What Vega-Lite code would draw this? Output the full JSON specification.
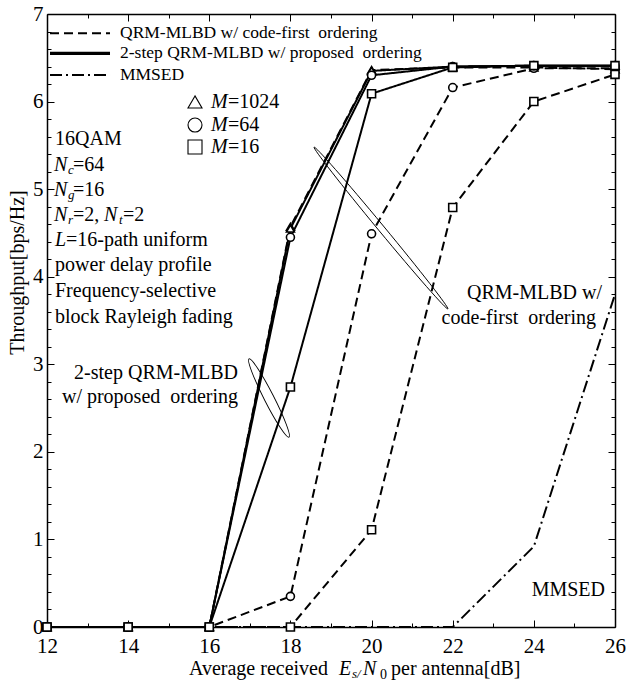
{
  "$schema": "https://vega.github.io/schema/vega-lite/v6.json",
  "width": 568,
  "height": 613,
  "autosize": {"type": "none"},
  "padding": {"left": 47, "top": 14, "right": 18, "bottom": 57},
  "background": "white",
  "config": {"view": {"stroke": null}, "font": "Liberation Serif"},
  "resolve": {"axis": {"x": "independent", "y": "independent"}},
  "datasets": {
    "curves": [
      {"snr": 12, "thr": 0, "scheme": "code-first", "M": "1024"},
      {"snr": 14, "thr": 0, "scheme": "code-first", "M": "1024"},
      {"snr": 16, "thr": 0, "scheme": "code-first", "M": "1024"},
      {"snr": 18, "thr": 4.57, "scheme": "code-first", "M": "1024"},
      {"snr": 20, "thr": 6.36, "scheme": "code-first", "M": "1024"},
      {"snr": 22, "thr": 6.39, "scheme": "code-first", "M": "1024"},
      {"snr": 24, "thr": 6.39, "scheme": "code-first", "M": "1024"},
      {"snr": 26, "thr": 6.37, "scheme": "code-first", "M": "1024"},
      {"snr": 12, "thr": 0, "scheme": "code-first", "M": "64"},
      {"snr": 14, "thr": 0, "scheme": "code-first", "M": "64"},
      {"snr": 16, "thr": 0, "scheme": "code-first", "M": "64"},
      {"snr": 18, "thr": 0.35, "scheme": "code-first", "M": "64"},
      {"snr": 20, "thr": 4.49, "scheme": "code-first", "M": "64"},
      {"snr": 22, "thr": 6.16, "scheme": "code-first", "M": "64"},
      {"snr": 24, "thr": 6.38, "scheme": "code-first", "M": "64"},
      {"snr": 26, "thr": 6.38, "scheme": "code-first", "M": "64"},
      {"snr": 12, "thr": 0, "scheme": "code-first", "M": "16"},
      {"snr": 14, "thr": 0, "scheme": "code-first", "M": "16"},
      {"snr": 16, "thr": 0, "scheme": "code-first", "M": "16"},
      {"snr": 18, "thr": 0, "scheme": "code-first", "M": "16"},
      {"snr": 20, "thr": 1.11, "scheme": "code-first", "M": "16"},
      {"snr": 22, "thr": 4.79, "scheme": "code-first", "M": "16"},
      {"snr": 24, "thr": 6.0, "scheme": "code-first", "M": "16"},
      {"snr": 26, "thr": 6.31, "scheme": "code-first", "M": "16"},
      {"snr": 12, "thr": 0, "scheme": "proposed", "M": "1024"},
      {"snr": 14, "thr": 0, "scheme": "proposed", "M": "1024"},
      {"snr": 16, "thr": 0, "scheme": "proposed", "M": "1024"},
      {"snr": 18, "thr": 4.55, "scheme": "proposed", "M": "1024"},
      {"snr": 20, "thr": 6.35, "scheme": "proposed", "M": "1024"},
      {"snr": 22, "thr": 6.4, "scheme": "proposed", "M": "1024"},
      {"snr": 24, "thr": 6.41, "scheme": "proposed", "M": "1024"},
      {"snr": 26, "thr": 6.41, "scheme": "proposed", "M": "1024"},
      {"snr": 12, "thr": 0, "scheme": "proposed", "M": "64"},
      {"snr": 14, "thr": 0, "scheme": "proposed", "M": "64"},
      {"snr": 16, "thr": 0, "scheme": "proposed", "M": "64"},
      {"snr": 18, "thr": 4.45, "scheme": "proposed", "M": "64"},
      {"snr": 20, "thr": 6.3, "scheme": "proposed", "M": "64"},
      {"snr": 22, "thr": 6.4, "scheme": "proposed", "M": "64"},
      {"snr": 24, "thr": 6.41, "scheme": "proposed", "M": "64"},
      {"snr": 26, "thr": 6.41, "scheme": "proposed", "M": "64"},
      {"snr": 12, "thr": 0, "scheme": "proposed", "M": "16"},
      {"snr": 14, "thr": 0, "scheme": "proposed", "M": "16"},
      {"snr": 16, "thr": 0, "scheme": "proposed", "M": "16"},
      {"snr": 18, "thr": 2.74, "scheme": "proposed", "M": "16"},
      {"snr": 20, "thr": 6.09, "scheme": "proposed", "M": "16"},
      {"snr": 22, "thr": 6.39, "scheme": "proposed", "M": "16"},
      {"snr": 24, "thr": 6.41, "scheme": "proposed", "M": "16"},
      {"snr": 26, "thr": 6.41, "scheme": "proposed", "M": "16"},
      {"snr": 12, "thr": 0, "scheme": "MMSED", "M": "-"},
      {"snr": 14, "thr": 0, "scheme": "MMSED", "M": "-"},
      {"snr": 16, "thr": 0, "scheme": "MMSED", "M": "-"},
      {"snr": 18, "thr": 0, "scheme": "MMSED", "M": "-"},
      {"snr": 20, "thr": 0, "scheme": "MMSED", "M": "-"},
      {"snr": 22, "thr": 0, "scheme": "MMSED", "M": "-"},
      {"snr": 24, "thr": 0.92, "scheme": "MMSED", "M": "-"},
      {"snr": 26, "thr": 3.8, "scheme": "MMSED", "M": "-"}
    ],
    "legendlines": [
      {"x": 12.074, "x2": 13.553, "y": 6.78, "scheme": "code-first"},
      {"x": 12.074, "x2": 13.553, "y": 6.551, "scheme": "proposed"},
      {"x": 12.074, "x2": 13.553, "y": 6.303, "scheme": "MMSED"}
    ],
    "mlegend": [
      {"x": 15.648, "y": 5.995, "M": "1024"},
      {"x": 15.648, "y": 5.732, "M": "64"},
      {"x": 15.648, "y": 5.481, "M": "16"}
    ],
    "notes": [
      {"x": 12.197, "y": 5.576, "text": "16QAM", "role": "plain"},
      {"x": 12.641, "y": 5.276, "text": "=64", "role": "plain"},
      {"x": 12.641, "y": 4.99, "text": "=16", "role": "plain"},
      {"x": 12.641, "y": 4.705, "text": "=2,", "role": "plain"},
      {"x": 13.873, "y": 4.705, "text": "=2", "role": "plain"},
      {"x": 12.468, "y": 4.419, "text": "=16-path uniform", "role": "plain"},
      {"x": 12.197, "y": 4.134, "text": "power delay profile", "role": "plain"},
      {"x": 12.197, "y": 3.837, "text": "Frequency-selective", "role": "plain"},
      {"x": 12.197, "y": 3.54, "text": "block Rayleigh fading", "role": "plain"},
      {"x": 16.461, "y": 5.995, "text": "=1024", "role": "plain"},
      {"x": 16.461, "y": 5.732, "text": "=64", "role": "plain"},
      {"x": 16.461, "y": 5.481, "text": "=16", "role": "plain"},
      {"x": 15.5, "y": -0.48, "text": "Average received", "role": "plain"},
      {"x": 20.479, "y": -0.48, "text": "per antenna[dB]", "role": "plain"},
      {"x": 12.173, "y": 5.276, "text": "N", "role": "var"},
      {"x": 12.173, "y": 4.99, "text": "N", "role": "var"},
      {"x": 12.173, "y": 4.705, "text": "N", "role": "var"},
      {"x": 13.405, "y": 4.705, "text": "N", "role": "var"},
      {"x": 12.197, "y": 4.419, "text": "L", "role": "var"},
      {"x": 16.042, "y": 5.995, "text": "M", "role": "var"},
      {"x": 16.042, "y": 5.732, "text": "M", "role": "var"},
      {"x": 16.042, "y": 5.481, "text": "M", "role": "var"},
      {"x": 19.197, "y": -0.48, "text": "E", "role": "var"},
      {"x": 19.789, "y": -0.48, "text": "N", "role": "var"},
      {"x": 12.518, "y": 5.276, "text": "c", "role": "sub"},
      {"x": 12.518, "y": 4.99, "text": "g", "role": "sub"},
      {"x": 12.518, "y": 4.705, "text": "r", "role": "sub"},
      {"x": 13.775, "y": 4.705, "text": "t", "role": "sub"},
      {"x": 19.518, "y": -0.48, "text": "s/", "role": "sub"},
      {"x": 20.208, "y": -0.48, "text": "0", "role": "subnum"},
      {"x": 25.68, "y": 3.814, "text": "QRM-MLBD w/", "role": "right"},
      {"x": 25.532, "y": 3.529, "text": "code-first\u00a0 ordering", "role": "right"},
      {"x": 25.754, "y": 0.4225, "text": "MMSED", "role": "right"},
      {"x": 16.708, "y": 2.901, "text": "2-step QRM-MLBD", "role": "right"},
      {"x": 16.708, "y": 2.626, "text": "w/ proposed\u00a0 ordering", "role": "right"},
      {"x": 13.799, "y": 6.78, "text": "QRM-MLBD w/ code-first\u00a0 ordering", "role": "legend"},
      {"x": 13.799, "y": 6.551, "text": "2-step QRM-MLBD w/ proposed\u00a0 ordering", "role": "legend"},
      {"x": 13.799, "y": 6.303, "text": "MMSED", "role": "legend"}
    ]
  },
  "layer": [
    {
      "data": {"name": "curves"},
      "mark": {"type": "line", "color": "black", "strokeWidth": 2, "strokeCap": "butt"},
      "encoding": {
        "x": {"field": "snr", "type": "quantitative", "scale": {"domain": [12, 26], "nice": false, "zero": false},
          "axis": {"orient": "bottom", "values": [12,13,14,15,16,17,18,19,20,21,22,23,24,25,26],
            "labelExpr": "datum.value % 2 == 0 ? format(datum.value, 'd') : ''",
            "tickSize": {"condition": {"test": "datum.value % 2 == 0", "value": -7}, "value": -4},
            "labelPadding": 15, "labelFont": "Liberation Serif", "labelFontSize": 21, "labelColor": "black",
            "labelFlush": false, "labelOverlap": false, "title": null, "grid": false,
            "domainColor": "black", "domainWidth": 1.5, "tickColor": "black", "tickWidth": 1}},
        "y": {"field": "thr", "type": "quantitative", "scale": {"domain": [0, 7], "nice": false, "zero": false},
          "axis": {"orient": "left", "values": [0,0.2,0.4,0.6,0.8,1,1.2,1.4,1.6,1.8,2,2.2,2.4,2.6,2.8,3,3.2,3.4,3.6,3.8,4,4.2,4.4,4.6,4.8,5,5.2,5.4,5.6,5.8,6,6.2,6.4,6.6,6.8,7],
            "labelExpr": "abs(datum.value - round(datum.value)) < 0.01 ? format(datum.value, 'd') : ''",
            "tickSize": {"condition": {"test": "abs(datum.value - round(datum.value)) < 0.01", "value": -7}, "value": -4},
            "labelPadding": 11, "labelFont": "Liberation Serif", "labelFontSize": 21, "labelColor": "black",
            "labelFlush": false, "labelOverlap": false, "grid": false,
            "title": "Throughput[bps/Hz]", "titleFont": "Liberation Serif", "titleFontSize": 20, "titleFontWeight": "normal",
            "titleColor": "black", "titleX": -30, "titleY": 258, "titleAlign": "center", "titleBaseline": "middle", "titleAngle": -90,
            "domainColor": "black", "domainWidth": 1.5, "tickColor": "black", "tickWidth": 1}},
        "detail": [{"field": "scheme"}, {"field": "M"}],
        "strokeDash": {"field": "scheme", "type": "nominal", "scale": {"domain": ["code-first", "proposed", "MMSED"], "range": [[9, 5], [1, 0], [12, 4, 2, 4]]}, "legend": null}
      }
    },
    {
      "data": {"name": "curves"},
      "transform": [{"filter": "datum.scheme != 'MMSED'"}],
      "mark": {"type": "point", "filled": false, "fill": "white", "stroke": "black", "strokeWidth": 1.6, "opacity": 1, "size": 64},
      "encoding": {
        "x": {"field": "snr", "type": "quantitative", "axis": null},
        "y": {"field": "thr", "type": "quantitative", "axis": null},
        "shape": {"field": "M", "type": "nominal", "scale": {"domain": ["1024", "64", "16"], "range": ["triangle-up", "circle", "square"]}, "legend": null}
      }
    },
    {
      "data": {"name": "mlegend"},
      "mark": {"type": "point", "filled": false, "fill": "white", "stroke": "black", "strokeWidth": 1.1, "opacity": 1, "size": 196},
      "encoding": {
        "x": {"field": "x", "type": "quantitative", "axis": null},
        "y": {"field": "y", "type": "quantitative", "axis": null},
        "shape": {"field": "M", "type": "nominal", "legend": null}
      }
    },
    {
      "data": {"values": [{"x": 20.232, "y": 4.556}]},
      "mark": {"type": "point", "shape": "M 1 0 C 1 0.0166 0.5523 0.03 0 0.03 C -0.5523 0.03 -1 0.0166 -1 0 C -1 -0.0166 -0.5523 -0.03 0 -0.03 C 0.5523 -0.03 1 -0.0166 1 0 Z", "size": 44100, "angle": 50.4, "filled": false, "stroke": "black", "strokeWidth": 0.9, "opacity": 1},
      "encoding": {
        "x": {"field": "x", "type": "quantitative", "axis": {"orient": "top", "values": [12,13,14,15,16,17,18,19,20,21,22,23,24,25,26], "labels": false, "title": null, "grid": false,
          "tickSize": {"condition": {"test": "datum.value % 2 == 0", "value": -7}, "value": -4},
          "domainColor": "black", "domainWidth": 1.5, "tickColor": "black", "tickWidth": 1}},
        "y": {"field": "y", "type": "quantitative", "axis": {"orient": "right", "values": [0,0.2,0.4,0.6,0.8,1,1.2,1.4,1.6,1.8,2,2.2,2.4,2.6,2.8,3,3.2,3.4,3.6,3.8,4,4.2,4.4,4.6,4.8,5,5.2,5.4,5.6,5.8,6,6.2,6.4,6.6,6.8,7], "labels": false, "title": null, "grid": false,
          "tickSize": {"condition": {"test": "abs(datum.value - round(datum.value)) < 0.01", "value": -7}, "value": -4},
          "domainColor": "black", "domainWidth": 1.5, "tickColor": "black", "tickWidth": 1}}
      }
    },
    {
      "data": {"values": [{"x": 17.472, "y": 2.615}]},
      "mark": {"type": "point", "shape": "M 1 0 C 1 0.061 0.5523 0.11 0 0.11 C -0.5523 0.11 -1 0.061 -1 0 C -1 -0.061 -0.5523 -0.11 0 -0.11 C 0.5523 -0.11 1 -0.061 1 0 Z", "size": 7744, "angle": 63, "filled": false, "stroke": "black", "strokeWidth": 0.9, "opacity": 1},
      "encoding": {
        "x": {"field": "x", "type": "quantitative", "axis": null},
        "y": {"field": "y", "type": "quantitative", "axis": null}
      }
    },
    {
      "data": {"name": "legendlines"},
      "transform": [{"filter": "datum.scheme != 'proposed'"}],
      "mark": {"type": "rule", "color": "black", "strokeWidth": 2, "strokeCap": "butt"},
      "encoding": {
        "x": {"field": "x", "type": "quantitative", "axis": null},
        "x2": {"field": "x2"},
        "y": {"field": "y", "type": "quantitative", "axis": null},
        "strokeDash": {"field": "scheme", "type": "nominal", "legend": null}
      }
    },
    {
      "data": {"name": "legendlines"},
      "transform": [{"filter": "datum.scheme == 'proposed'"}],
      "mark": {"type": "rule", "color": "black", "strokeWidth": 3.2, "strokeCap": "butt"},
      "encoding": {
        "x": {"field": "x", "type": "quantitative", "axis": null},
        "x2": {"field": "x2"},
        "y": {"field": "y", "type": "quantitative", "axis": null}
      }
    },
    {
      "data": {"name": "notes"},
      "transform": [{"filter": "datum.role == 'plain'"}],
      "mark": {"type": "text", "align": "left", "baseline": "middle", "font": "Liberation Serif", "fontSize": 20, "color": "black"},
      "encoding": {
        "x": {"field": "x", "type": "quantitative", "axis": null},
        "y": {"field": "y", "type": "quantitative", "axis": null},
        "text": {"field": "text"}
      }
    },
    {
      "data": {"name": "notes"},
      "transform": [{"filter": "datum.role == 'var'"}],
      "mark": {"type": "text", "align": "left", "baseline": "middle", "font": "Liberation Serif", "fontStyle": "italic", "fontSize": 20, "color": "black"},
      "encoding": {
        "x": {"field": "x", "type": "quantitative", "axis": null},
        "y": {"field": "y", "type": "quantitative", "axis": null},
        "text": {"field": "text"}
      }
    },
    {
      "data": {"name": "notes"},
      "transform": [{"filter": "datum.role == 'sub'"}],
      "mark": {"type": "text", "align": "left", "baseline": "middle", "font": "Liberation Serif", "fontStyle": "italic", "fontSize": 13, "dy": 5, "color": "black"},
      "encoding": {
        "x": {"field": "x", "type": "quantitative", "axis": null},
        "y": {"field": "y", "type": "quantitative", "axis": null},
        "text": {"field": "text"}
      }
    },
    {
      "data": {"name": "notes"},
      "transform": [{"filter": "datum.role == 'subnum'"}],
      "mark": {"type": "text", "align": "left", "baseline": "middle", "font": "Liberation Serif", "fontSize": 14, "dy": 6, "color": "black"},
      "encoding": {
        "x": {"field": "x", "type": "quantitative", "axis": null},
        "y": {"field": "y", "type": "quantitative", "axis": null},
        "text": {"field": "text"}
      }
    },
    {
      "data": {"name": "notes"},
      "transform": [{"filter": "datum.role == 'right'"}],
      "mark": {"type": "text", "align": "right", "baseline": "middle", "font": "Liberation Serif", "fontSize": 20, "color": "black"},
      "encoding": {
        "x": {"field": "x", "type": "quantitative", "axis": null},
        "y": {"field": "y", "type": "quantitative", "axis": null},
        "text": {"field": "text"}
      }
    },
    {
      "data": {"name": "notes"},
      "transform": [{"filter": "datum.role == 'legend'"}],
      "mark": {"type": "text", "align": "left", "baseline": "middle", "font": "Liberation Serif", "fontSize": 17.5, "color": "black"},
      "encoding": {
        "x": {"field": "x", "type": "quantitative", "axis": null},
        "y": {"field": "y", "type": "quantitative", "axis": null},
        "text": {"field": "text"}
      }
    }
  ]
}
